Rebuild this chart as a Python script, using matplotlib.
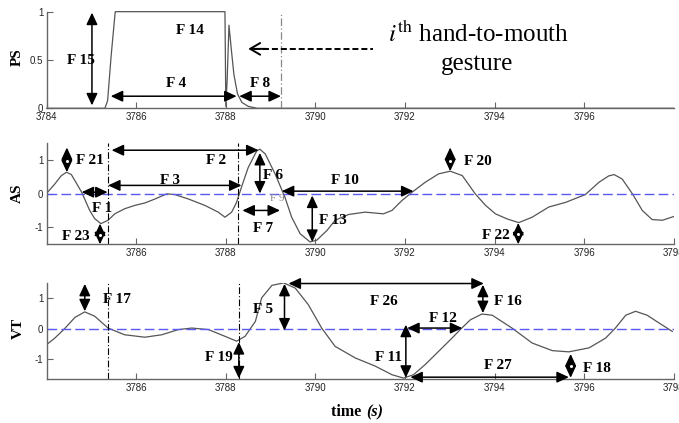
import matplotlib.pyplot as plt

plt.rcParams['font.family'] = ['Liberation Serif', 'DejaVu Serif']
plt.rcParams['mathtext.fontset'] = 'stix'

# PS (binary-ish posture signal)
ps_t = [3784.0, 3785.30, 3785.36, 3785.44, 3785.53, 3787.98, 3788.00, 3788.03, 3788.07,
        3788.12, 3788.18, 3788.26, 3788.36, 3788.5, 3788.7, 3798.0]
ps_v = [0.0, 0.0, 0.08, 0.55, 1.0, 1.0, 0.02, 0.3, 0.86, 0.62, 0.35, 0.15, 0.06, 0.02, 0.0, 0.0]

# AS signal
as_t = [3784.0, 3784.18, 3784.32, 3784.44, 3784.55, 3784.63, 3784.78, 3784.96, 3785.07, 3785.21,
        3785.37, 3785.52, 3785.74, 3785.97, 3786.19, 3786.42, 3786.68, 3786.86, 3787.16, 3787.53,
        3787.83, 3787.98, 3788.13, 3788.24, 3788.35, 3788.5, 3788.69, 3788.76, 3788.88, 3789.1,
        3789.32, 3789.47, 3789.66, 3789.88, 3790.03, 3790.26, 3790.44, 3790.74, 3791.11, 3791.52,
        3791.71, 3791.93, 3792.16, 3792.45, 3792.75, 3793.01, 3793.28, 3793.57, 3793.8, 3794.02,
        3794.28, 3794.54, 3794.84, 3795.21, 3795.59, 3796.03, 3796.33, 3796.55, 3796.67, 3796.85,
        3797.08, 3797.3, 3797.52, 3797.75, 3798.0]
as_v = [0.01, 0.28, 0.52, 0.63, 0.56, 0.38, 0.04, -0.5, -0.74, -0.89,
        -0.79, -0.6, -0.45, -0.35, -0.28, -0.16, -0.01, -0.03, -0.16, -0.35,
        -0.55, -0.70, -0.55, -0.26, 0.19, 0.77, 1.26, 1.31, 1.17, 0.58,
        -0.11, -0.7, -1.19, -1.43, -1.38, -1.09, -0.79, -0.62, -0.55, -0.6,
        -0.5, -0.21, 0.04, 0.33, 0.58, 0.66, 0.53, -0.01, -0.35, -0.6,
        -0.75, -0.86, -0.70, -0.40, -0.26, -0.03, 0.33, 0.52, 0.56, 0.43,
        -0.01, -0.5, -0.77, -0.79, -0.68]

# VT signal
vt_t = [3784.0, 3784.18, 3784.4, 3784.63, 3784.85, 3785.07, 3785.37, 3785.74, 3786.19, 3786.57,
        3786.94, 3787.24, 3787.61, 3787.98, 3788.24, 3788.43, 3788.66, 3788.8, 3789.03, 3789.29,
        3789.55, 3789.84, 3790.14, 3790.44, 3790.89, 3791.34, 3791.71, 3791.97, 3792.19, 3792.45,
        3792.83, 3793.05, 3793.27, 3793.46, 3793.72, 3793.95, 3794.39, 3794.84, 3795.29, 3795.66,
        3796.11, 3796.48, 3796.7, 3796.93, 3797.15, 3797.41, 3797.67, 3797.97]
vt_v = [-0.51, -0.3, 0.01, 0.38, 0.56, 0.42, 0.03, -0.19, -0.27, -0.19,
        -0.02, 0.03, -0.02, -0.24, -0.4, -0.24, 0.25, 1.02, 1.43, 1.51,
        1.34, 0.8, 0.03, -0.57, -0.95, -1.22, -1.5, -1.61, -1.5, -1.17,
        -0.62, -0.3, 0.03, 0.3, 0.49, 0.45, 0.03, -0.46, -0.71, -0.75,
        -0.62, -0.3, 0.03, 0.45, 0.58, 0.45, 0.2, -0.08]

ps_ticks = [3784, 3786, 3788, 3790, 3792, 3794, 3796]
sig_ticks = [3786, 3788, 3790, 3792, 3794, 3796, 3798]

# double arrows (x0, y0, x1, y1)
ps_arrows = [(3785.01, 0.03, 3785.01, 0.99), (3785.43, 0.125, 3788.24, 0.125),
             (3788.30, 0.125, 3789.23, 0.125)]
as_arrows = [(3784.45, 1.36, 3784.45, 0.63), (3784.78, 0.04, 3785.36, 0.04),
             (3785.19, -0.89, 3785.19, -1.5), (3785.45, 1.28, 3788.73, 1.28),
             (3785.37, 0.24, 3788.35, 0.24), (3788.76, 1.2, 3788.76, 0.0),
             (3788.37, -0.5, 3789.21, -0.5), (3789.25, 0.07, 3792.19, 0.07),
             (3789.93, -0.06, 3789.93, -1.43), (3793.01, 1.36, 3793.01, 0.66),
             (3794.53, -0.87, 3794.53, -1.5)]
vt_arrows = [(3784.85, 1.48, 3784.85, 0.58), (3788.29, -0.43, 3788.29, -1.62),
             (3789.31, 1.48, 3789.31, -0.05), (3789.40, 1.49, 3793.76, 1.49),
             (3793.74, 1.45, 3793.74, 0.52), (3792.05, 0.03, 3793.28, 0.03),
             (3792.02, 0.14, 3792.02, -1.6), (3792.12, -1.58, 3795.66, -1.58),
             (3795.70, -0.82, 3795.70, -1.6)]

# small circles on the short arrows
as_dots = [(3784.45, 0.97), (3785.19, -1.24), (3793.01, 0.97), (3794.53, -1.19)]
vt_dots = [(3795.70, -1.22)]

# feature labels (text, x, y)
ps_labels = [('F 14', 3787.2, 0.81), ('F 15', 3784.76, 0.49), ('F 4', 3786.89, 0.26),
             ('F 8', 3788.76, 0.26)]
as_labels = [('F 21', 3784.96, 0.97), ('F 1', 3785.24, -0.45), ('F 23', 3784.64, -1.28),
             ('F 2', 3787.78, 0.97), ('F 3', 3786.75, 0.38), ('F 6', 3789.05, 0.53),
             ('F 7', 3788.83, -1.04), ('F 10', 3790.67, 0.38), ('F 13', 3790.4, -0.79),
             ('F 20', 3793.62, 0.95), ('F 22', 3794.02, -1.24)]
vt_labels = [('F 17', 3785.56, 0.96), ('F 19', 3787.85, -0.95), ('F 5', 3788.83, 0.63),
             ('F 26', 3791.52, 0.91), ('F 12', 3792.85, 0.34), ('F 11', 3791.63, -0.95),
             ('F 16', 3794.31, 0.91), ('F 27', 3794.08, -1.19), ('F 18', 3796.29, -1.3)]

as_vlines = [3785.36, 3788.27]
vt_vlines = [3785.36, 3788.29]
ps_vline = 3789.23

fig = plt.figure(figsize=(6.79, 4.23), dpi=100)
ax1 = fig.add_axes([0.0688, 0.744, 0.9233, 0.2284])
ax2 = fig.add_axes([0.0688, 0.4225, 0.9233, 0.240])
ax3 = fig.add_axes([0.0688, 0.1033, 0.9233, 0.2286])


def darrow(ax, x0, y0, x1, y1):
    ax.annotate('', xy=(x1, y1), xytext=(x0, y0),
                arrowprops=dict(arrowstyle='<|-|>,head_length=0.6,head_width=0.28',
                                color='black', lw=1.1, shrinkA=0, shrinkB=0,
                                mutation_scale=12))


def style(ax, ticks, yticks, ylim):
    ax.set_xlim(3784, 3798)
    ax.set_ylim(*ylim)
    for s in ['top', 'right']:
        ax.spines[s].set_visible(False)
    for s in ['left', 'bottom']:
        ax.spines[s].set_color('#666666')
        ax.spines[s].set_linewidth(1.0)
    ax.set_xticks(ticks, [str(t) for t in ticks], fontsize=7,
                  fontfamily='Liberation Sans', color='#222222')
    ax.set_yticks(yticks, [('%g' % v) for v in yticks], fontsize=7,
                  fontfamily='Liberation Sans', color='#222222')
    ax.tick_params(direction='in', length=4, width=0.8, color='#666666', pad=2.5)


# PS panel
ax1.plot(ps_t, ps_v, color='#555555', lw=0.9, clip_on=False)
ax1.axvline(ps_vline, color='#888888', lw=0.9, ls=(0, (6, 2, 1, 2)))
for a in ps_arrows:
    darrow(ax1, *a)
for txt, x, y in ps_labels:
    ax1.text(x, y, txt, ha='center', va='center', fontsize=11, fontweight='bold')
ax1.plot([3788.62, 3791.29], [0.615, 0.615], color='black', lw=1.4, ls=(0, (3.1, 1.5)))
ax1.annotate('', xy=(3788.5, 0.615), xytext=(3788.9, 0.615),
             arrowprops=dict(arrowstyle='->,head_length=0.6,head_width=0.35',
                             color='black', lw=1.4, shrinkA=0, shrinkB=0,
                             mutation_scale=12))
style(ax1, ps_ticks, [0, 0.5, 1], (0, 1))

# AS panel
ax2.plot(as_t, as_v, color='#555555', lw=0.9)
ax2.axhline(0, color='#5a5af0', lw=1.0, ls=(0, (7, 3)))
for xv in as_vlines:
    ax2.axvline(xv, color='black', lw=0.8, ls=(0, (6, 2, 1, 2)))
for a in as_arrows:
    darrow(ax2, *a)
for x, y in as_dots:
    ax2.plot(x, y, 'o', ms=3, mfc='white', mec='black', mew=0.8, zorder=5)
for txt, x, y in as_labels:
    ax2.text(x, y, txt, ha='center', va='center', fontsize=11, fontweight='bold')
ax2.text(3789.14, -0.16, 'F 9', ha='center', va='center', fontsize=8, color='#888888')
style(ax2, sig_ticks, [-1, 0, 1], (-1.5, 1.5))

# VT panel
ax3.plot(vt_t, vt_v, color='#555555', lw=0.9)
ax3.axhline(0, color='#5a5af0', lw=1.0, ls=(0, (7, 3)))
for xv in vt_vlines:
    ax3.axvline(xv, color='black', lw=0.8, ls=(0, (6, 2, 1, 2)))
for a in vt_arrows:
    darrow(ax3, *a)
for x, y in vt_dots:
    ax3.plot(x, y, 'o', ms=3, mfc='white', mec='black', mew=0.8, zorder=5)
for txt, x, y in vt_labels:
    ax3.text(x, y, txt, ha='center', va='center', fontsize=11, fontweight='bold')
style(ax3, sig_ticks, [-1, 0, 1], (-1.65, 1.52))

# axis names
fig.text(17 / 679, 1 - 57 / 423, 'PS', rotation=90, ha='center', va='center',
         fontsize=11, fontweight='bold')
fig.text(17 / 679, 1 - 193 / 423, 'AS', rotation=90, ha='center', va='center',
         fontsize=11, fontweight='bold')
fig.text(18 / 679, 1 - 328 / 423, 'VT', rotation=90, ha='center', va='center',
         fontsize=11, fontweight='bold')
fig.text(365 / 679, 1 - 412 / 423, 'time ', ha='right', va='center',
         fontsize=11.5, fontweight='bold')
fig.text(366 / 679, 1 - 412 / 423, '(s)', ha='left', va='center',
         fontsize=11.5, fontweight='bold', fontstyle='italic')

# gesture note
fig.text(478 / 679, 1 - 42 / 423, r'$i^{\rm th}$ hand-to-mouth', ha='center',
         va='baseline', fontsize=18)
fig.text(477 / 679, 1 - 70 / 423, 'gesture', ha='center', va='baseline', fontsize=18)

fig.savefig('out.png', dpi=100)
